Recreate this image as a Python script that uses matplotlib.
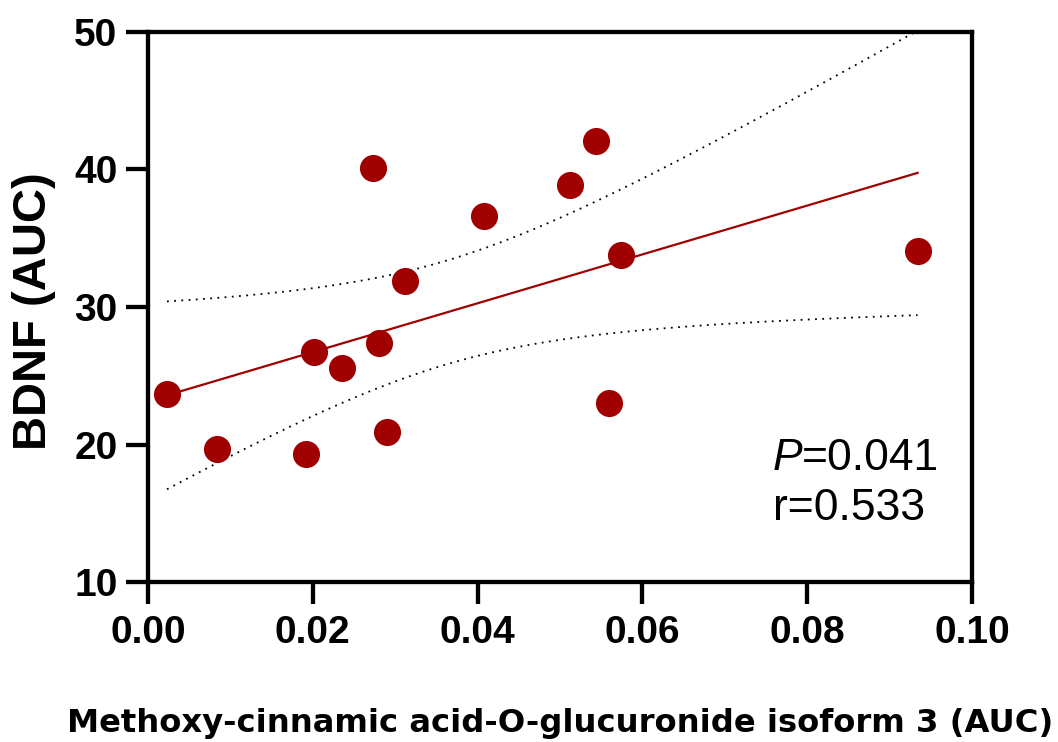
import numpy as np
import matplotlib.pyplot as plt

plt.rcParams['font.family'] = ['Liberation Sans', 'DejaVu Sans']

# values
metab = [0.0023, 0.0084, 0.0192, 0.0201, 0.0235, 0.0273, 0.0280, 0.0290,
         0.0312, 0.0408, 0.0512, 0.0544, 0.0559, 0.0574, 0.0934]
bdnf = [23.7, 19.7, 19.3, 26.7, 25.6, 40.1, 27.4, 20.9,
        31.9, 36.6, 38.9, 42.1, 23.0, 33.8, 34.1]
p_value = '0.041'
r_value = '0.533'

x = np.array(metab)
y = np.array(bdnf)
n = len(x)

# linear fit + 95% confidence band of the line
slope, icpt = np.polyfit(x, y, 1)
xs = np.linspace(x.min(), x.max(), 200)
fit = slope * xs + icpt
resid = y - (slope * x + icpt)
s = np.sqrt(np.sum(resid ** 2) / (n - 2))
t = 2.160  # t(0.975, df=13)
se = s * np.sqrt(1 / n + (xs - x.mean()) ** 2 / np.sum((x - x.mean()) ** 2))

red = '#a00000'
fig = plt.figure(figsize=(10.58, 7.42), dpi=100)
ax = fig.add_axes([0.1399, 0.2156, 0.7788, 0.7413])

ax.plot(xs, fit, color=red, lw=1.6, zorder=2)
ax.plot(xs, fit + t * se, color='black', lw=1.3, ls=(0, (1, 3)), zorder=2)
ax.plot(xs, fit - t * se, color='black', lw=1.3, ls=(0, (1, 3)), zorder=2)
ax.plot(x, y, 'o', color=red, ms=19.5, mec='none', zorder=3)

ax.set_xlim(0, 0.10)
ax.set_ylim(10, 50)
ax.set_xticks([0.00, 0.02, 0.04, 0.06, 0.08, 0.10])
ax.set_xticklabels(['0.00', '0.02', '0.04', '0.06', '0.08', '0.10'])
ax.set_yticks([10, 20, 30, 40, 50])

for sp in ax.spines.values():
    sp.set_linewidth(3.1)
ax.tick_params(width=3.1, length=15.5)
ax.tick_params(axis='x', pad=8)
ax.tick_params(axis='y', pad=6.5)
for lab in ax.get_xticklabels() + ax.get_yticklabels():
    lab.set_fontsize(28)
    lab.set_fontweight('bold')

fig.text(0.032, 0.581, 'BDNF (AUC)', fontsize=34, fontweight='bold',
         rotation=90, ha='center', va='center')
fig.text(0.529, 0.0139, 'Methoxy-cinnamic acid-O-glucuronide isoform 3 (AUC)',
         fontsize=23.2, fontweight='bold', ha='center', va='baseline',
         family=['DejaVu Sans'])

ptxt = ax.text(0.0758, 18.15, 'P', fontsize=32, fontstyle='italic', va='baseline')
ax.annotate('=' + p_value, xy=(1, 0), xycoords=ptxt, fontsize=32, va='bottom')
ax.text(0.0758, 14.5, 'r=' + r_value, fontsize=32, va='baseline')

fig.savefig('out.png', dpi=100)
